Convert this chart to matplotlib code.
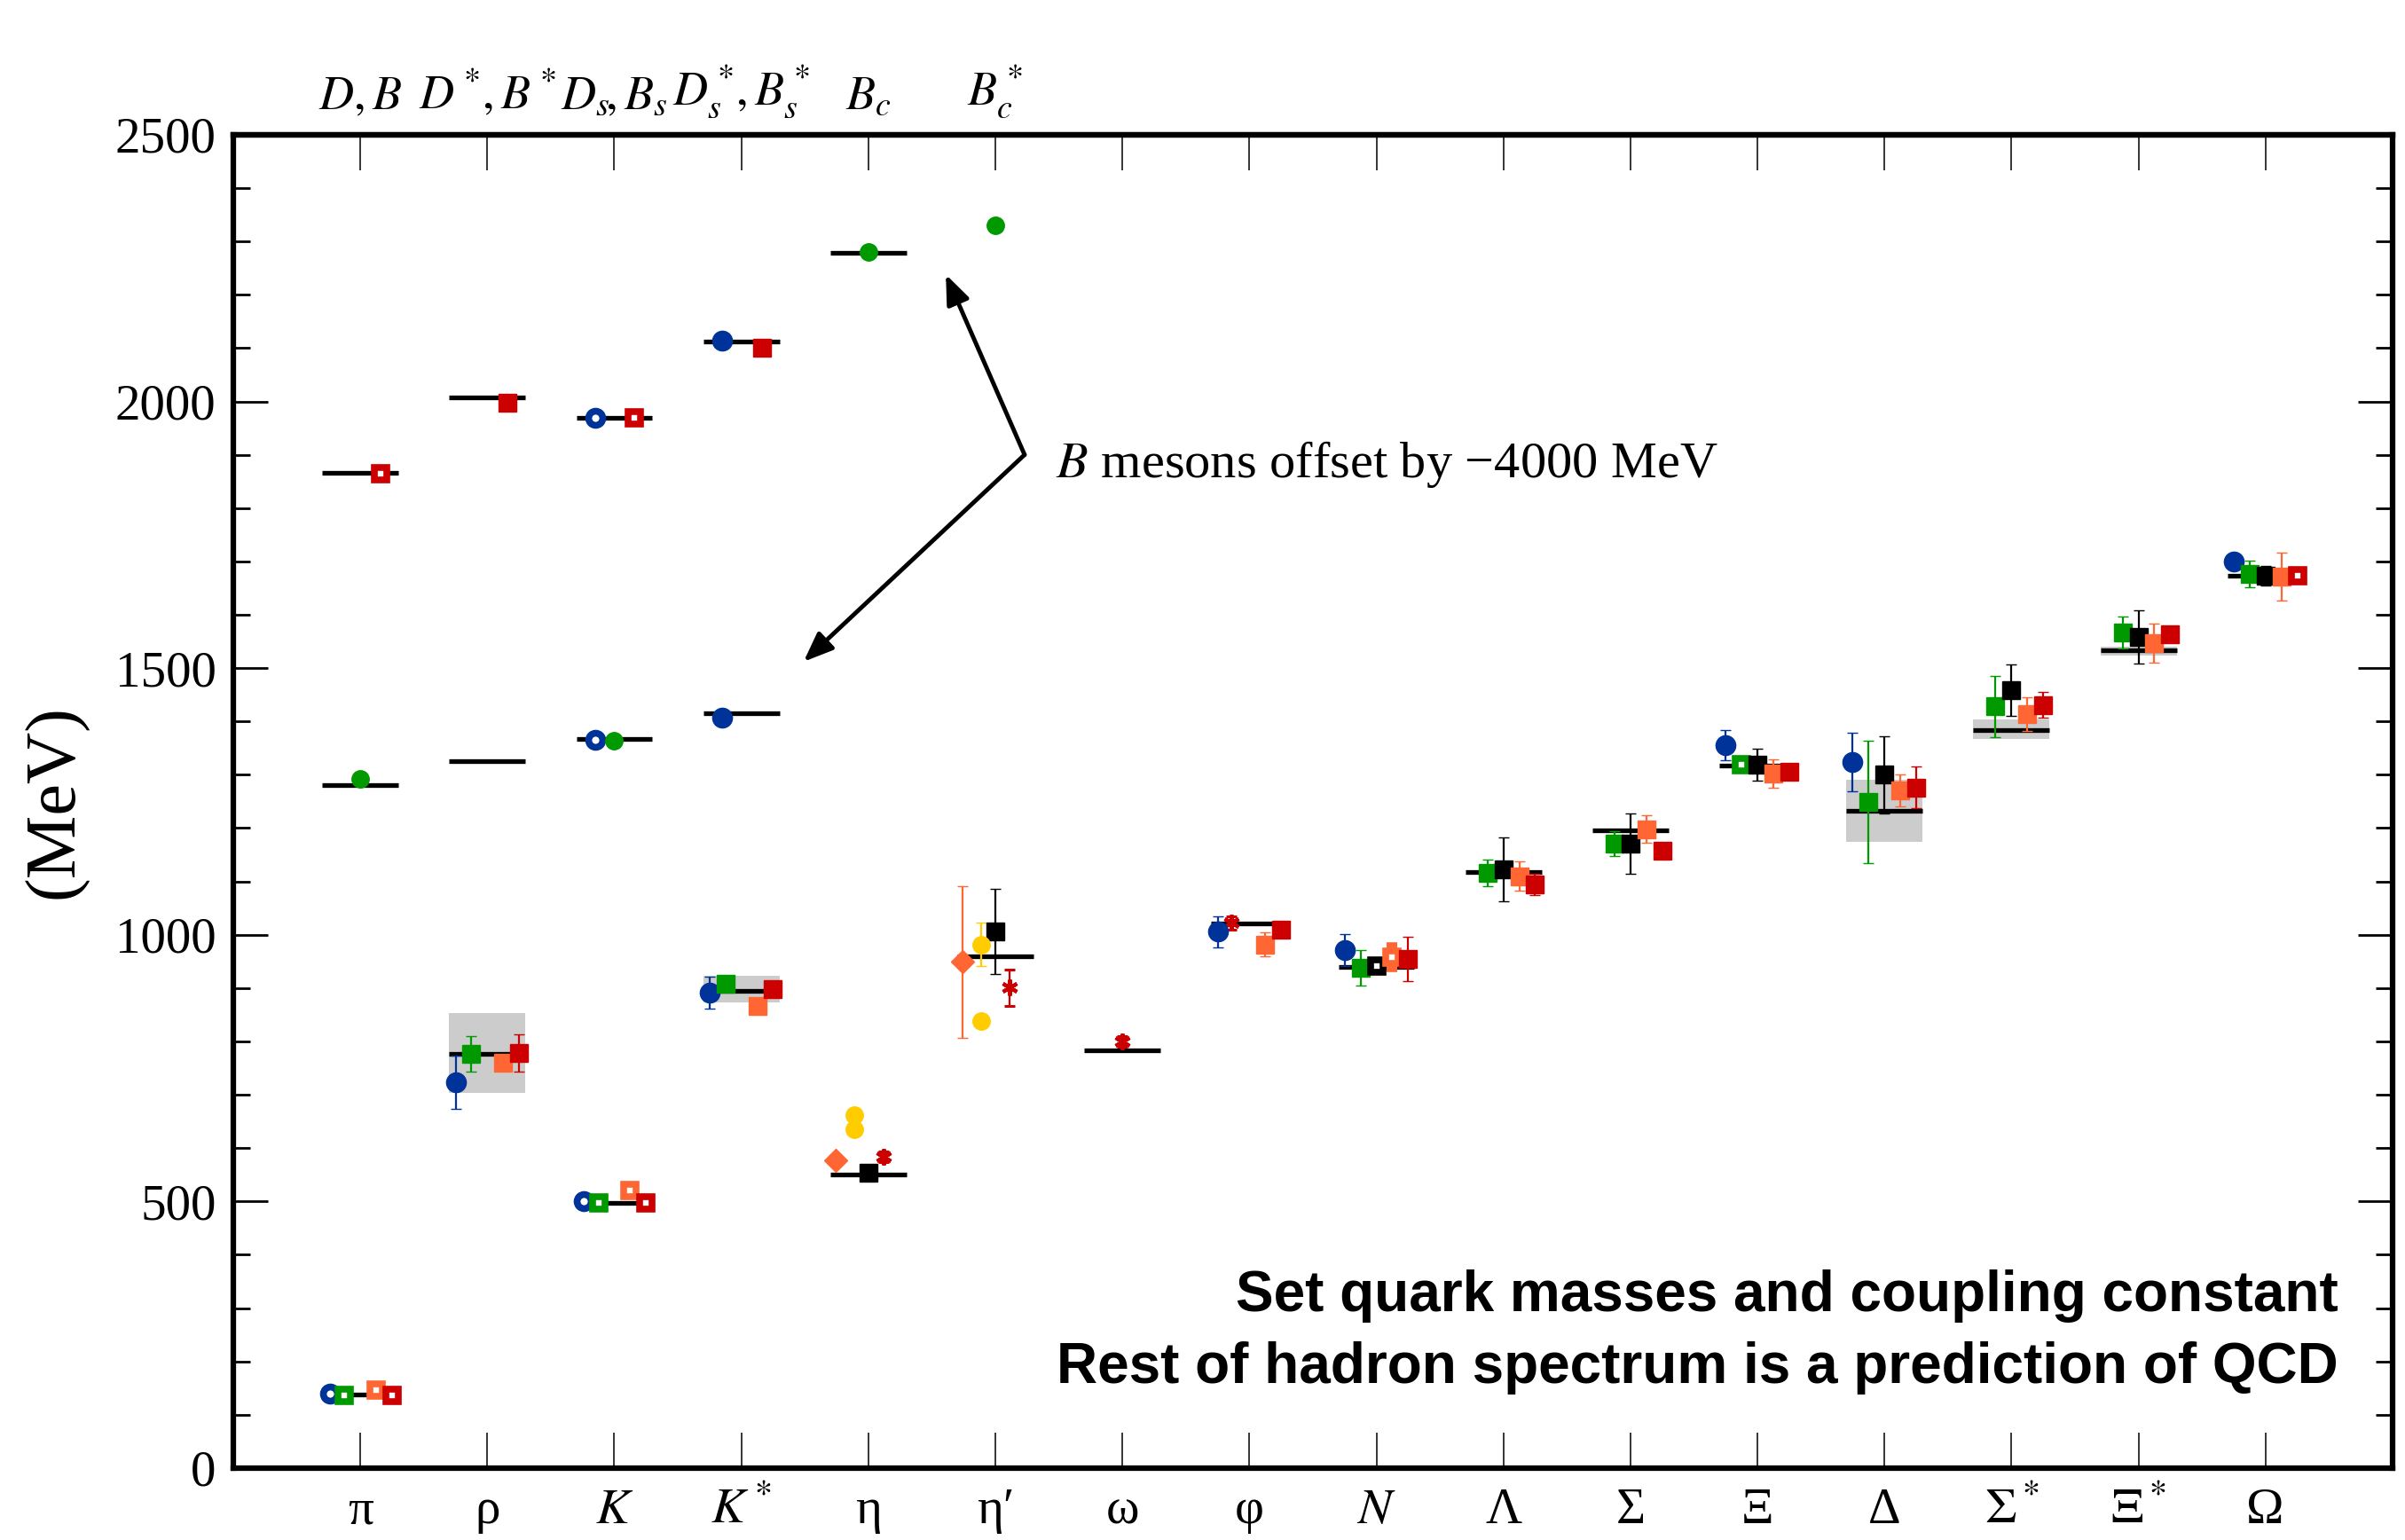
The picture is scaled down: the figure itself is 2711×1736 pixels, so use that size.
import matplotlib
matplotlib.use("Agg")
import matplotlib.pyplot as plt
import numpy as np

plt.rcParams['font.family'] = ['Liberation Serif', 'DejaVu Serif']
plt.rcParams['mathtext.fontset'] = 'stix'

# hadron categories along the x axis
hadrons = ['pi', 'rho', 'K', 'Kstar', 'eta', 'etap', 'omega', 'phi', 'N',
           'Lambda', 'Sigma', 'Xi', 'Delta', 'Sigmastar', 'Xistar', 'Omega']
hadron_labels = ['π', 'ρ', r'$K$', r'$K^*$', 'η', 'η′', 'ω', 'φ', r'$N$',
                 'Λ', 'Σ', 'Ξ', 'Δ', r'$\Sigma^*$', r'$\Xi^*$', 'Ω']
heavy_labels = [r'$D,B$', r'$D^*\!,B^*$', r'$D_s\!,B_s$', r'$D_s^*\!,B_s^*$',
                r'$B_c$', r'$B_c^*$']

# experimental masses (black bars)
exp_mass = [138, 777, 497, 894, 550, 960, 783, 1021, 940,
            1117, 1195, 1317, 1233, 1384, 1533, 1673]
charm_names = ['pi', 'rho', 'K', 'Kstar', 'eta']          # D, D*, Ds, Ds*, Bc
charm_mass = [1866, 2008, 1970, 2113, 2278]
bottom_names = ['pi', 'rho', 'K', 'Kstar']                # B, B*, Bs, Bs* (-4000)
bottom_mass = [1280, 1325, 1367, 1415]

# widths of resonances (grey bands)
band_names = ['rho', 'Kstar', 'Delta', 'Sigmastar', 'Xistar']
band_lo = [703, 873, 1174, 1367, 1523]
band_hi = [853, 923, 1291, 1403, 1540]

# lattice results, one set of lists per collaboration / symbol
blue_names = ['rho', 'Kstar', 'phi', 'N', 'Xi', 'Delta', 'Omega']
blue_mass = [723, 891, 1006, 972, 1356, 1324, 1700]
blue_err = [50, 30, 29, 30, 28, 55, 12]
blue_open_names = ['pi', 'K']
blue_open_mass = [140, 501]
blue_heavy_names = ['Kstar', 'Kstar']
blue_heavy_mass = [2114, 1407]
blue_heavy_open_names = ['K', 'K']
blue_heavy_open_mass = [1970, 1366]

green_names = ['rho', 'Kstar', 'N', 'Lambda', 'Sigma', 'Delta', 'Sigmastar', 'Xistar', 'Omega']
green_mass = [777, 908, 938, 1116, 1171, 1249, 1428, 1566, 1677]
green_err = [33, 8, 33, 25, 23, 115, 58, 30, 25]
green_open_names = ['pi', 'K', 'Xi']
green_open_mass = [137, 498, 1319]
green_circ_names = ['pi', 'K', 'eta', 'etap']
green_circ_mass = [1292, 1364, 2281, 2331]
green_circ_err = [12, 0, 0, 0]

black_names = ['eta', 'etap', 'Lambda', 'Sigma', 'Xi', 'Delta', 'Sigmastar', 'Xistar', 'Omega']
black_mass = [553, 1006, 1123, 1171, 1319, 1300, 1459, 1559, 1673]
black_err = [0, 80, 60, 56, 30, 72, 48, 50, 18]
black_open_names = ['N']
black_open_mass = [941]

orange_names = ['rho', 'Kstar', 'phi', 'Lambda', 'Sigma', 'Xi', 'Delta', 'Sigmastar', 'Xistar', 'Omega']
orange_mass = [760, 866, 982, 1110, 1198, 1302, 1270, 1414, 1547, 1672]
orange_err = [12, 12, 22, 27, 26, 27, 30, 32, 37, 45]
orange_open_names = ['pi', 'K', 'N']
orange_open_mass = [146, 520, 958]
orange_open_err = [0, 0, 22]
diamond_names = ['eta', 'etap']
diamond_mass = [577, 949]
diamond_err = [0, 142]

red_names = ['rho', 'Kstar', 'phi', 'N', 'Lambda', 'Sigma', 'Xi', 'Delta', 'Sigmastar', 'Xistar']
red_mass = [778, 898, 1010, 955, 1095, 1158, 1305, 1276, 1431, 1563]
red_err = [35, 0, 0, 42, 20, 8, 0, 39, 24, 0]
red_open_names = ['pi', 'K', 'Omega']
red_open_mass = [137, 498, 1674]
red_heavy_names = ['rho', 'Kstar']
red_heavy_mass = [1997, 2100]
red_heavy_open_names = ['pi', 'K']
red_heavy_open_mass = [1865, 1970]
star_names = ['eta', 'etap', 'omega', 'phi']
star_mass = [584, 901, 800, 1022]
star_err = [10, 34, 10, 12]

yellow_names = ['eta', 'eta', 'etap', 'etap']
yellow_mass = [662, 635, 982, 838]
yellow_err = [0, 0, 40, 10]

# layout: horizontal offsets inside each category
star_offsets = [0.12, 0.11, 0.0, -0.14]

BLUE = '#003399'
GREEN = '#009900'
ORANGE = '#ff6633'
RED = '#cc0000'
YELLOW = '#ffcc00'
GREY = '#cccccc'

pos = {h: i + 1 for i, h in enumerate(hadrons)}

fig = plt.figure(figsize=(27.11, 17.36), dpi=100)
ax = fig.add_axes([0.097, 0.0467, 0.8978, 0.8658])
ax.set_xlim(0, 17)
ax.set_ylim(0, 2500)

# grey bands for the widths
bx = [pos[n] for n in band_names]
ax.bar(bx, np.array(band_hi) - np.array(band_lo), bottom=band_lo, width=0.6,
       color=GREY, zorder=1)

# experimental values
for names, masses in [(hadrons, exp_mass), (charm_names, charm_mass), (bottom_names, bottom_mass)]:
    x = np.array([pos[n] for n in names], dtype=float)
    ax.hlines(masses, x - 0.3, x + 0.3, colors='k', lw=3.8, zorder=2)


def series(names, masses, errs, off, color, marker, ms, hollow=False):
    x = np.array([pos[n] for n in names], dtype=float) + np.asarray(off)
    if hollow:
        ax.errorbar(x, masses, yerr=errs, fmt=marker, ms=ms, color=color,
                    mfc='white', mec=color, mew=5.5, ecolor=color, elinewidth=1.6,
                    capsize=4.5, capthick=2.2, zorder=3)
    else:
        ax.errorbar(x, masses, yerr=errs, fmt=marker, ms=ms, color=color,
                    mfc=color, mec=color, mew=1, ecolor=color, elinewidth=1.6,
                    capsize=4.5, capthick=2.2, zorder=3)


series(blue_names, blue_mass, blue_err, -0.25, BLUE, 'o', 16)
series(blue_open_names, blue_open_mass, None, -0.24, BLUE, 'o', 11.5, hollow=True)
series(blue_heavy_names, blue_heavy_mass, None, -0.15, BLUE, 'o', 16)
series(blue_heavy_open_names, blue_heavy_open_mass, None, -0.15, BLUE, 'o', 11.5, hollow=True)

series(green_names, green_mass, green_err, -0.125, GREEN, 's', 15)
series(green_open_names, green_open_mass, None, -0.125, GREEN, 's', 10, hollow=True)
series(green_circ_names, green_circ_mass, green_circ_err, 0.0, GREEN, 'o', 14)

series(black_names, black_mass, black_err, 0.0, 'k', 's', 15)
series(black_open_names, black_open_mass, None, 0.0, 'k', 's', 10, hollow=True)

series(orange_names, orange_mass, orange_err, 0.125, ORANGE, 's', 15)
series(orange_open_names, orange_open_mass, orange_open_err, 0.125, ORANGE, 's', 10, hollow=True)
series(diamond_names, diamond_mass, diamond_err, -0.26, ORANGE, 'D', 13)

series(red_names, red_mass, red_err, 0.25, RED, 's', 15)
series(red_open_names, red_open_mass, None, 0.25, RED, 's', 10, hollow=True)
series(red_heavy_names, red_heavy_mass, None, 0.16, RED, 's', 15)
series(red_heavy_open_names, red_heavy_open_mass, None, 0.16, RED, 's', 10, hollow=True)

xs = np.array([pos[n] for n in star_names], dtype=float) + np.array(star_offsets)
ax.errorbar(xs, star_mass, yerr=star_err, fmt='none', ecolor=RED, elinewidth=1.6,
            capsize=4.5, capthick=2.2, zorder=3)
ax.plot(xs, star_mass, ls='none', marker=(6, 2, 0), ms=13, mew=3, color=RED, zorder=3)

series(yellow_names, yellow_mass, yellow_err, -0.11, YELLOW, 'o', 14)

# arrows and annotation for B mesons
arrow = dict(arrowstyle='-|>,head_length=0.5,head_width=0.2', lw=3.5, color='k',
             mutation_scale=40, shrinkA=0, shrinkB=0)
ax.annotate('', xy=(5.61, 2238), xytext=(6.23, 1900), arrowprops=arrow, zorder=4)
ax.annotate('', xy=(4.49, 1512), xytext=(6.23, 1900), arrowprops=arrow, zorder=4)
ax.text(0.381, 0.743, r'$B$ mesons offset by −4000 MeV', transform=ax.transAxes,
        fontsize=42, va='baseline', ha='left')

ax.text(0.975, 0.1178, 'Set quark masses and coupling constant', transform=ax.transAxes,
        fontsize=46, fontweight='bold', family='Liberation Sans', ha='right', va='baseline')
ax.text(0.975, 0.0639, 'Rest of hadron spectrum is a prediction of QCD', transform=ax.transAxes,
        fontsize=46, fontweight='bold', family='Liberation Sans', ha='right', va='baseline')

# axes styling
ax.set_yticks(range(0, 2501, 500))
ax.set_yticks(range(0, 2501, 100), minor=True)
ax.tick_params(axis='y', which='major', direction='in', length=28, width=2,
               labelsize=41, pad=14, right=True)
ax.tick_params(axis='y', which='minor', direction='in', length=14, width=2, right=True)
ax.set_xticks(range(1, 17), hadron_labels)
ax.tick_params(axis='x', which='major', direction='in', length=29, width=1.1,
               labelsize=41, pad=16)
for s in ax.spines.values():
    s.set_linewidth(4.5)

top = ax.secondary_xaxis('top')
top.set_xticks(range(1, 17), heavy_labels + [''] * 10)
top.tick_params(direction='in', length=29, width=1.1, labelsize=39, pad=12)
top.spines['top'].set_linewidth(4.5)

ax.set_ylabel('(MeV)', fontsize=58)
ax.yaxis.set_label_coords(-0.067, 0.5)

fig.savefig('out.png', dpi=100)
